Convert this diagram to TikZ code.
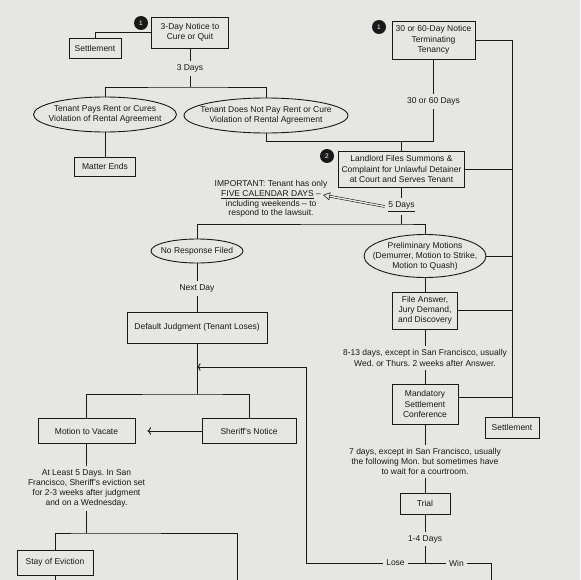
\documentclass[tikz,border=0pt]{standalone}
\usepackage{fontspec}
\setmainfont{Liberation Sans}
\usetikzlibrary{shapes}
\usetikzlibrary{arrows}
\usetikzlibrary{arrows.meta}
\frenchspacing

\definecolor{paper}{RGB}{230,230,227}
\definecolor{ink}{RGB}{25,25,25}

\begin{document}
\begin{tikzpicture}[x=1pt,y=-1pt,color=ink,line width=0.9pt]
				\tikzstyle{every node}=[font=\fontsize{8.5}{10.2}\selectfont]
				\tikzstyle{box}=[rectangle,draw,align=center,inner sep=0pt]
				\tikzstyle{oval}=[ellipse,draw,align=center,inner xsep=-20pt,inner ysep=-6pt]
				\tikzstyle{num}=[circle,fill=ink,text=white,minimum size=14pt,inner sep=0pt,font=\fontsize{6.5}{7}\selectfont]
				\tikzstyle{lbl}=[align=center,inner sep=3pt]
				\tikzstyle{hollow}=[double=paper,double distance=1.4pt,line width=0.55pt,-{Triangle[open,length=7pt,width=8pt,fill=paper]}]
				
				\fill[paper] (0,0) rectangle (580,580);
				\useasboundingbox (0,0) rectangle (580,580);
				
				% first notice
				\node[num] (num1a) at (141,23) {1};
				\node[box,minimum width=77pt,minimum height=31pt] (cure) at (190,32.5) {3-Day Notice to\\Cure or Quit};
				\node[box,minimum width=52pt,minimum height=20pt] (settle1) at (95,48) {Settlement};
				\node[lbl] (days3) at (190,68.5) {3 Days};
				\node[oval,minimum width=143pt,minimum height=35pt] (pays) at (105,114.5) {Tenant Pays Rent or Cures\\Violation of Rental Agreement};
				\node[oval,minimum width=164pt,minimum height=35pt] (nopay) at (266,115.5) {Tenant Does Not Pay Rent or Cure\\Violation of Rental Agreement};
				\node[box,minimum width=61pt,minimum height=19pt] (ends) at (105,166.5) {Matter Ends};
				
				% second notice and lawsuit
				\node[num] (num1b) at (379,27) {1};
				\node[box,minimum width=83pt,minimum height=38pt] (term) at (433.5,40) {30 or 60-Day Notice\\Terminating\\Tenancy};
				\node[lbl] (days3060) at (433.5,101.5) {30 or 60 Days};
				\node[num] (num2) at (327,156) {2};
				\node[box,minimum width=126pt,minimum height=36pt] (files) at (401.5,169) {Landlord Files Summons \&\\Complaint for Unlawful Detainer\\at Court and Serves Tenant};
				\node[lbl] (days5) at (401.5,206.5) {\underline{5 Days}};
				\node[lbl,font=\fontsize{8.5}{9.8}\selectfont] (important) at (271,199) {IMPORTANT: Tenant has only\\\underline{FIVE CALENDAR DAYS} –\\including weekends – to\\respond to the lawsuit.};
				\coordinate (imptip) at (323,195);
				
				% no response side
				\node[oval,minimum width=92pt,minimum height=24pt] (noresp) at (197,251) {No Response Filed};
				\node[lbl] (nextday) at (197,288.5) {Next Day};
				\node[box,minimum width=140pt,minimum height=31pt] (default) at (197,327.5) {Default Judgment (Tenant Loses)};
				\node[box,minimum width=97pt,minimum height=25pt] (vacate) at (86.5,431) {Motion to Vacate};
				\node[box,minimum width=94pt,minimum height=25pt] (sheriff) at (249,431) {Sheriff's Notice};
				\node[lbl] (wait5) at (86.5,488.5) {At Least 5 Days. In San\\Francisco, Sheriff's eviction set\\for 2-3 weeks after judgment\\and on a Wednesday.};
				\node[box,minimum width=76pt,minimum height=25pt] (stay) at (55,562.5) {Stay of Eviction};
				
				% response side
				\node[oval,minimum width=122pt,minimum height=43pt] (prelim) at (425,256) {Preliminary Motions\\(Demurrer, Motion to Strike,\\Motion to Quash)};
				\node[box,minimum width=65pt,minimum height=37pt] (answer) at (425,310.5) {File Answer,\\Jury Demand,\\and Discovery};
				\node[lbl] (wait813) at (425,358) {8-13 days, except in San Francisco, usually\\Wed. or Thurs. 2 weeks after Answer.};
				\node[box,minimum width=66pt,minimum height=40pt] (msc) at (425,404) {Mandatory\\Settlement\\Conference};
				\node[box,minimum width=54pt,minimum height=21pt] (settle2) at (512,427.5) {Settlement};
				\node[lbl] (wait7) at (425,461.5) {7 days, except in San Francisco, usually\\the following Mon. but sometimes have\\to wait for a courtroom.};
				\node[box,minimum width=50pt,minimum height=21pt] (trial) at (425,503.5) {Trial};
				\node[lbl] (days14) at (425,539) {1-4 Days};
				\node[lbl] (lose) at (395.5,563) {Lose};
				\node[lbl] (win) at (456.5,563) {Win};
				
				\coordinate (j3) at (190,87);
				\coordinate (jt) at (433.5,141);
				\coordinate (j5) at (401.5,224);
				\coordinate (jd) at (197,394);
				\coordinate (j6) at (86.5,533);
				\coordinate (jw) at (425,563);
				\coordinate (jl) at (306,367);
				\coordinate (offa) at (55,580);
				\coordinate (offb) at (237,580);
				\coordinate (offc) at (491,580);
				
				\draw (cure.west) -| (settle1.north);
				\draw (cure) -- (days3);
				\draw (days3) -- (j3);
				\draw (pays.north) |- (j3) -| (nopay.north);
				\draw (pays) -- (ends);
				\draw (term) -- (days3060);
				\draw (days3060) -- (jt) -| (nopay.south);
				\draw (files.north) -- (files.north |- jt);
				\draw (term.east) -| (settle2.north);
				\draw (files.east) -- (files.east -| settle2.north);
				\draw (prelim.east) -- (prelim.east -| settle2.north);
				\draw (answer.east) -- (answer.east -| settle2.north);
				\draw ([yshift=7pt]msc.east) -- ([yshift=7pt]msc.east -| settle2.north);
				\draw (files) -- (days5);
				\draw (days5) -- (j5);
				\draw (noresp.north) |- (j5) -| (prelim.north);
				\draw[hollow] (days5.west) -- (imptip);
				\draw (noresp) -- (nextday);
				\draw (nextday) -- (default);
				\draw (default) -- (jd);
				\draw (vacate.north) |- (jd) -| (sheriff.north);
				\draw[->,shorten >=12pt] (sheriff) -- (vacate);
				\draw (vacate) -- (wait5);
				\draw (wait5) -- (j6);
				\draw (stay.north) |- (j6) -| (offb);
				\draw (stay) -- (offa);
				\draw (prelim) -- (answer);
				\draw (answer) -- (wait813);
				\draw (wait813) -- (msc);
				\draw (msc) -- (wait7);
				\draw (wait7) -- (trial);
				\draw (trial) -- (days14);
				\draw (days14) -- (jw);
				\draw (lose) -- (win);
				\draw[->] (lose) -| (jl) -- (jl -| default.south);
				\draw (win) -| (offc);
\end{tikzpicture}
\end{document}
